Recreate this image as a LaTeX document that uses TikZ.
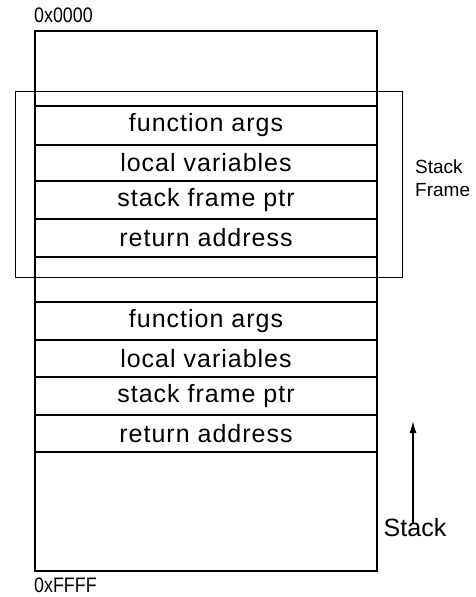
\documentclass[tikz,border=0pt]{standalone}
\usepackage{fontspec}
\setmainfont{Liberation Sans}
\newfontfamily\slotfont[LetterSpace=4]{Liberation Sans}
\newfontfamily\addrfont[FakeStretch=0.85]{Liberation Sans}
\usetikzlibrary{arrows.meta}
\begin{document}
\begin{tikzpicture}[x=1pt,y=-1pt,
  memory/.style={draw,line width=2.6pt,minimum width=342pt,inner sep=0pt},
  slot/.style={draw,line width=2.4pt,minimum width=342pt,inner sep=0pt,
    font=\slotfont\fontsize{25}{28}\selectfont},
  framebox/.style={draw,line width=0.9pt,inner sep=0pt},
  addr/.style={font=\addrfont\fontsize{21}{23}\selectfont,anchor=west,inner sep=0pt},
  side/.style={font=\fontsize{19}{23}\selectfont,inner sep=0pt}]
\useasboundingbox (0,0) rectangle (475,597);

% whole address space
\node[memory,minimum height=540pt] (mem) at (206,301) {};

% upper call frame
\node[slot,minimum height=39pt] (a1) at (206,125.5) {function args};
\node[slot,minimum height=36pt] (l1) at (206,163) {local variables};
\node[slot,minimum height=38pt] (p1) at (206,200) {stack frame ptr};
\node[slot,minimum height=38pt] (r1) at (206,238) {return address};

% lower call frame
\node[slot,minimum height=38pt] (a2) at (206,321) {function args};
\node[slot,minimum height=37pt] (l2) at (206,358.5) {local variables};
\node[slot,minimum height=38pt] (p2) at (206,396) {stack frame ptr};
\node[slot,minimum height=37pt] (r2) at (206,433.5) {return address};

% bracket around one frame
\node[framebox,minimum width=387pt,minimum height=186pt] (frame) at (208.5,184) {};
\node[side,align=left,anchor=west] (framelbl) at (415,178) {Stack\\Frame};

% address labels
\node[addr] (top) at (34,15) {0x0000};
\node[addr] (bot) at (34,585) {0xFFFF};

% growth direction
\node[side,font=\fontsize{25}{28}\selectfont] (grow) at (415,528) {Stack};
\coordinate (tip) at (413,421);
\draw[line width=1.4pt,-{Latex[length=12pt,width=7pt]}] ([xshift=-2pt,yshift=-5pt]grow.north) -- (tip);
\end{tikzpicture}
\end{document}
